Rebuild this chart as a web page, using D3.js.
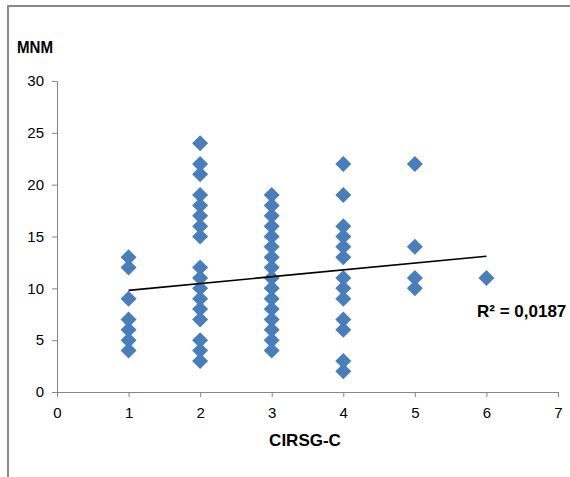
<!DOCTYPE html>
<html>
<head>
<meta charset="utf-8">
<script src="https://cdn.jsdelivr.net/npm/d3@7"></script>
<style>
  html, body { margin: 0; padding: 0; background: #fff; }
  svg { display: block; }
  .tick text { font-family: 'Liberation Sans Narrow', 'Arial Narrow', sans-serif; font-size: 15px; fill: #000; }
</style>
</head>
<body>
<svg id="chart" width="570" height="477"></svg>
<script>
// ---- data ----
const xValues = [
  1,1,1,1,1,1,1,
  2,2,2,2,2,2,2,2,2,2,2,2,2,2,2,2,2,
  3,3,3,3,3,3,3,3,3,3,3,3,3,3,3,3,
  4,4,4,4,4,4,4,4,4,4,4,4,4,
  5,5,5,5,
  6
];
const yValues = [
  13,12,9,7,6,5,4,
  24,22,21,19,18,17,16,15,12,11,10,9,8,7,5,4,3,
  19,18,17,16,15,14,13,12,11,10,9,8,7,6,5,4,
  22,19,16,15,14,13,11,10,9,7,6,3,2,
  22,14,11,10,
  11
];
const trendX = [1, 6];
const trendY = [9.8, 13.1];
const xTicks = [0,1,2,3,4,5,6,7];
const yTicks = [0,5,10,15,20,25,30];
const xTitle = "CIRSG-C";
const yTitle = "MNM";
const r2Label = "R² = 0,0187";

// ---- chart ----
const svg = d3.select("#chart");
const axisColor = "#868686";

// frame (top and left borders)
svg.append("line").attr("x1", 7).attr("x2", 570).attr("y1", 6).attr("y2", 6)
  .attr("stroke", "#888").attr("stroke-width", 2);
svg.append("line").attr("x1", 8).attr("x2", 8).attr("y1", 5).attr("y2", 477)
  .attr("stroke", "#888").attr("stroke-width", 2);

const x = d3.scaleLinear().domain([0, 7]).range([57, 558]);
const y = d3.scaleLinear().domain([0, 30]).range([392, 81]);

const gx = svg.append("g").attr("transform", `translate(0,${y(0)})`)
  .call(d3.axisBottom(x).tickValues(xTicks).tickSize(5).tickSizeOuter(0).tickPadding(8).tickFormat(d3.format("d")));
const gy = svg.append("g").attr("transform", `translate(${x(0)},0)`)
  .call(d3.axisLeft(y).tickValues(yTicks).tickSize(5).tickSizeOuter(0).tickPadding(8).tickFormat(d3.format("d")));
[gx, gy].forEach(g => {
  g.select(".domain").attr("stroke", axisColor);
  g.selectAll(".tick line").attr("stroke", axisColor);
});
gx.selectAll(".tick text").attr("dy", "0.85em");

// points (diamonds)
svg.append("g").selectAll("path")
  .data(xValues.map((v, i) => [v, yValues[i]]))
  .join("path")
  .attr("d", d3.symbol().type(d3.symbolSquare).size(128))
  .attr("transform", d => `translate(${x(d[0])},${y(d[1])}) rotate(45)`)
  .attr("fill", "#4a7ebb");

// trend line
svg.append("line")
  .attr("x1", x(trendX[0])).attr("y1", y(trendY[0]))
  .attr("x2", x(trendX[1])).attr("y2", y(trendY[1]))
  .attr("stroke", "#000").attr("stroke-width", 1.6);

// titles
const titleFont = "'Liberation Sans', Arial, sans-serif";
svg.append("text").attr("x", 17).attr("y", 53).text(yTitle)
  .attr("font-family", titleFont).attr("font-weight", "bold").attr("font-size", 17)
  .attr("textLength", 36).attr("lengthAdjust", "spacingAndGlyphs");
svg.append("text").attr("x", 305).attr("y", 446).attr("text-anchor", "middle").text(xTitle)
  .attr("font-family", titleFont).attr("font-weight", "bold").attr("font-size", 17);
svg.append("text").attr("x", 477).attr("y", 317).text(r2Label)
  .attr("font-family", titleFont).attr("font-weight", "bold").attr("font-size", 17);
</script>
</body>
</html>
